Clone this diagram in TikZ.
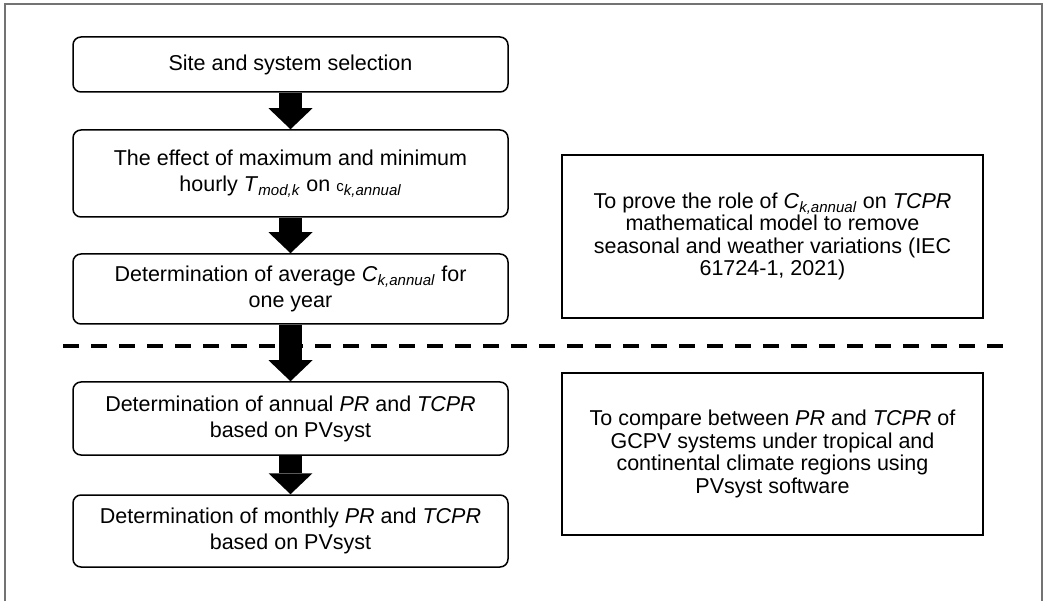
\documentclass[tikz,border=0pt]{standalone}
\usepackage{fontspec}
\setmainfont{Liberation Sans}
\usetikzlibrary{arrows.meta}
\newcommand{\subit}[1]{\textsubscript{\textit{#1}}}

\begin{document}
\begin{tikzpicture}[x=1pt, y=-1pt,
		stage/.style={draw, line width=1.5pt, rounded corners=8pt, minimum width=435pt, inner sep=0pt, align=center, font=\fontsize{21.5}{26}\selectfont},
		aim/.style={draw, line width=1.5pt, minimum width=421pt, minimum height=162pt, inner sep=0pt, align=center, font=\fontsize{21.5}{22.5}\selectfont},
		blockarrow/.style={line width=23pt, -{Triangle[width=44pt, length=21pt, line width=0pt]}},
		split/.style={line width=4pt, dash pattern=on 16pt off 12pt}]
		\useasboundingbox (0,0) rectangle (1047,601);
		% frame, open at the bottom
		\draw[black!55, line width=1.5pt] (5,601) -- (5,4) -- (1042,4) -- (1042,601);
		% steps of the method
		\node[stage, minimum height=55pt] (site) at (290.5,64.5) {Site and system selection};
		\node[stage, minimum height=87pt] (effect) at (290.5,173.5) {The effect of maximum and minimum\\hourly \textit{T}\subit{mod,k} on {\fontsize{15}{15}\selectfont c}\subit{k,annual}};
		\node[stage, minimum height=70pt] (average) at (290.5,289) {Determination of average \textit{C}\subit{k,annual} for\\one year};
		\node[stage, minimum height=73pt] (annual) at (290.5,418.5) {Determination of annual \textit{PR} and \textit{TCPR}\\based on PVsyst};
		\node[stage, minimum height=72pt] (monthly) at (290.5,531) {Determination of monthly \textit{PR} and \textit{TCPR}\\based on PVsyst};
		% objectives
		\node[aim, minimum height=163pt] (prove) at (772.5,236.5) {To prove the role of \textit{C}\subit{k,annual} on \textit{TCPR}\\mathematical model to remove\\seasonal and weather variations (IEC\\61724-1, 2021)};
		\node[aim] (compare) at (772.5,454) {To compare between \textit{PR} and \textit{TCPR} of\\GCPV systems under tropical and\\continental climate regions using\\PVsyst software};
		% split between the two parts
		\coordinate (split west) at (63,346);
		\coordinate (split east) at (1003,346);
		\draw[split] (split west) -- (split east);
		% flow
		\draw[blockarrow] (site) -- (effect);
		\draw[blockarrow] (effect) -- (average);
		\draw[blockarrow] (average) -- (annual);
		\draw[blockarrow] (annual) -- (monthly);
	\end{tikzpicture}
\end{document}
